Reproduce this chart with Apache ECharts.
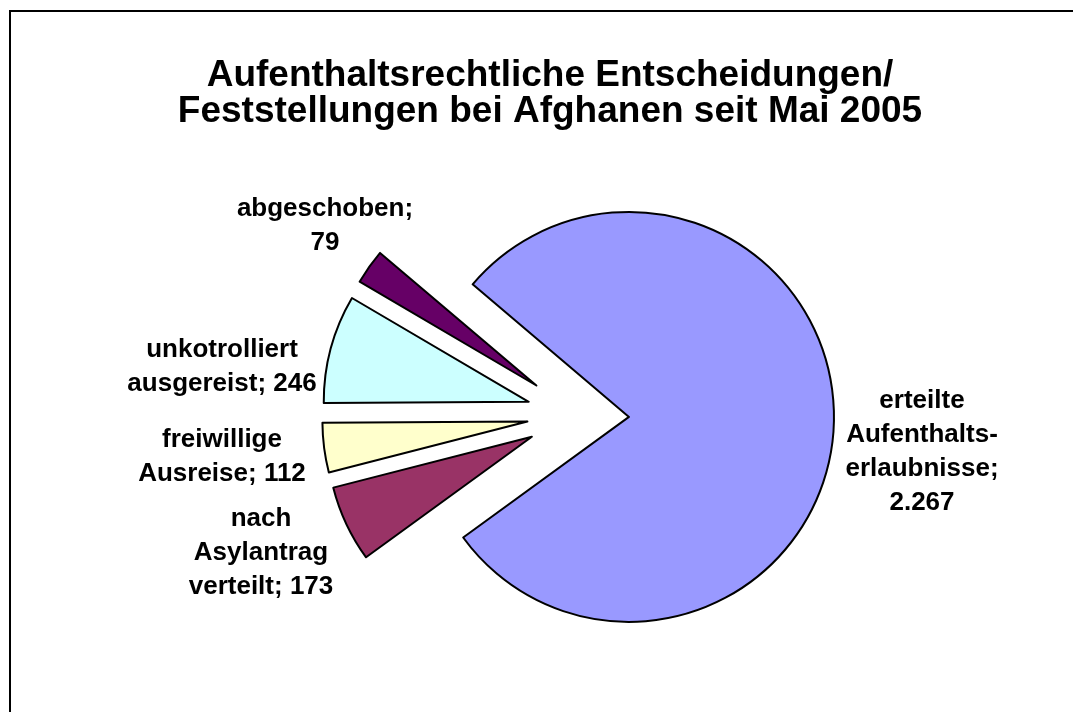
<!DOCTYPE html>
<html>
<head>
<meta charset="utf-8">
<script src="https://cdn.jsdelivr.net/npm/echarts@6/dist/echarts.min.js"></script>
<style>
html,body{margin:0;padding:0;background:#fff;}
#chart{width:1073px;height:712px;}
</style>
</head>
<body>
<div id="chart"></div>
<script>
// ---- data ----
const titleLines = ['Aufenthaltsrechtliche Entscheidungen/', 'Feststellungen bei Afghanen seit Mai 2005'];
const categories = ['erteilte\nAufenthalts-\nerlaubnisse', 'nach\nAsylantrag\nverteilt', 'freiwillige\nAusreise', 'unkotrolliert\nausgereist', 'abgeschoben'];
const values = [2267, 173, 112, 246, 79];
const valueOnNewLine = [true, false, false, false, true];

// ---- styles / layout ----
const colors = ['#9999FF', '#993366', '#FFFFCC', '#CCFFFF', '#660066'];
const labelPos = [[922, 452], [261, 553], [222, 457], [222, 367], [325, 226]];
const FONT = '"Liberation Sans", Arial, sans-serif';

function fmt(v) {
  return v.toString().replace(/\B(?=(\d{3})+(?!\d))/g, '.');
}
function labelText(i) {
  return categories[i] + ';' + (valueOnNewLine[i] ? '\n' : ' ') + fmt(values[i]);
}

const labelGraphics = categories.map(function (c, i) {
  return {
    type: 'text',
    silent: true,
    style: {
      text: labelText(i),
      x: labelPos[i][0],
      y: labelPos[i][1],
      align: 'center',
      verticalAlign: 'middle',
      fontFamily: FONT,
      fontSize: 26,
      fontWeight: 'bold',
      lineHeight: 34,
      fill: '#000'
    }
  };
});

const chart = echarts.init(document.getElementById('chart'), null, {renderer: 'canvas'});
chart.setOption({
  animation: false,
  backgroundColor: '#fff',
  title: {
    text: titleLines.join('\n'),
    left: 545,
    top: 53,
    textAlign: 'center',
    textStyle: {fontFamily: FONT, fontSize: 37, fontWeight: 'bold', color: '#000', lineHeight: 36}
  },
  graphic: [{
    type: 'rect',
    silent: true,
    shape: {x: 10, y: 11, width: 1100, height: 800},
    style: {fill: 'none', stroke: '#000', lineWidth: 2}
  }].concat(labelGraphics),
  series: [{
    type: 'pie',
    center: [578, 415],
    radius: [0, 205],
    startAngle: 139.7,
    clockwise: true,
    selectedMode: 'multiple',
    selectedOffset: 51,
    avoidLabelOverlap: false,
    emphasis: {disabled: true},
    itemStyle: {borderColor: '#000', borderWidth: 2, borderRadius: 0},
    labelLine: {show: false},
    label: {show: false},
    data: categories.map(function (c, i) {
      return {name: c, value: values[i], selected: true, itemStyle: {color: colors[i]}};
    })
  }]
});
</script>
</body>
</html>
